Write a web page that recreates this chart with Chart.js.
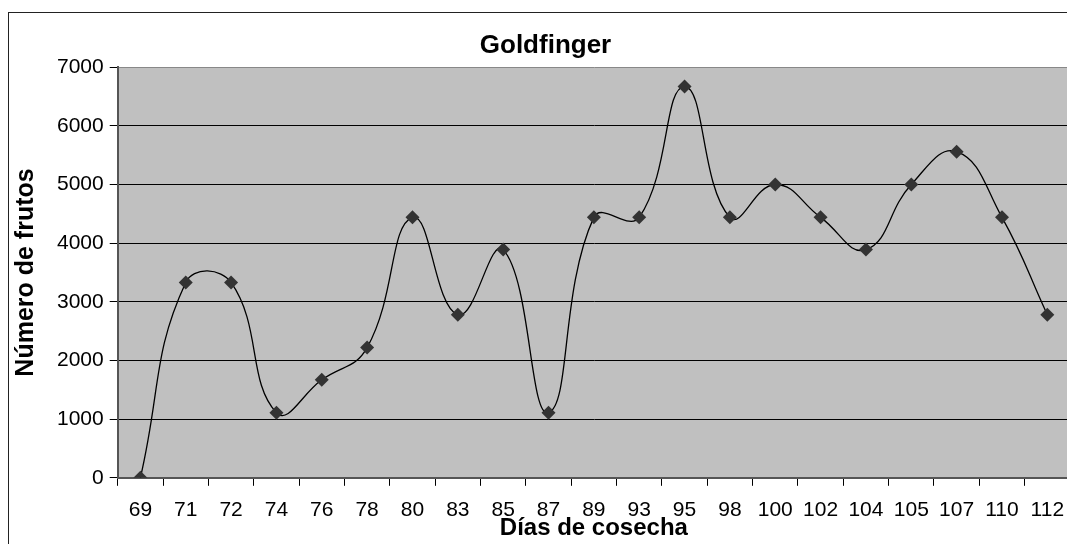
<!DOCTYPE html>
<html>
<head>
<meta charset="utf-8">
<script src="https://cdn.jsdelivr.net/npm/chart.js@4"></script>
<style>
  html, body { margin: 0; padding: 0; background: #fff; overflow: hidden; }
  #frame { position: absolute; left: 8px; top: 12px; width: 1100px; height: 560px;
           border-left: 1px solid #222; border-top: 1px solid #222; }
  #wrap { position: absolute; left: 0; top: 0; width: 1077px; height: 544px; }
</style>
</head>
<body>
<div id="frame"></div>
<div id="wrap"><canvas id="chart"></canvas></div>
<script>
// harvest days and fruit counts
const dias = ['69', '71', '72', '74', '76', '78', '80', '83', '85', '87', '89',
              '93', '95', '98', '100', '102', '104', '105', '107', '110', '112'];
const frutos = [0, 3330, 3330, 1110, 1670, 2220, 4440, 2780, 3890, 1110, 4440,
                4440, 6670, 4440, 5000, 4440, 3890, 5000, 5560, 4440, 2780];
const yTicks = [0, 1000, 2000, 3000, 4000, 5000, 6000, 7000];

const FONT = 'Liberation Sans, Arial, sans-serif';

// grey plot background
const plotBg = {
  id: 'plotBg',
  beforeDraw(chart) {
    const a = chart.chartArea;
    const ctx = chart.ctx;
    ctx.save();
    ctx.fillStyle = '#c0c0c0';
    ctx.fillRect(a.left, a.top, a.right - a.left, a.bottom - a.top);
    ctx.restore();
  }
};

const ctx = document.getElementById('chart').getContext('2d');
new Chart(ctx, {
  type: 'line',
  data: {
    labels: dias,
    datasets: [{
      data: frutos,
      borderColor: '#000',
      borderWidth: 1.3,
      tension: 0.45,
      pointStyle: 'rectRot',
      pointRadius: 7,
      pointBackgroundColor: '#333',
      pointBorderColor: '#333',
      pointBorderWidth: 0
    }]
  },
  options: {
    responsive: true,
    maintainAspectRatio: false,
    animation: false,
    layout: { padding: { left: 14, top: 30, right: 0, bottom: 4 } },
    plugins: {
      legend: { display: false },
      tooltip: { enabled: false },
      title: {
        display: true,
        text: 'Goldfinger',
        color: '#000',
        font: { family: FONT, size: 26, weight: 'bold', lineHeight: 1.2 },
        padding: { top: 0, bottom: 6 }
      }
    },
    scales: {
      x: {
        offset: true,
        grid: { offset: true, drawOnChartArea: false, drawTicks: true, tickLength: 8, color: '#000' },
        border: { color: '#555', width: 2 },
        ticks: {
          color: '#000', maxRotation: 0, autoSkip: false, padding: 12,
          font: { family: FONT, size: 21 }
        },
        title: {
          display: true, text: 'Días de cosecha', color: '#000',
          font: { family: FONT, size: 24, weight: 'bold', lineHeight: 1 },
          padding: { top: -19, bottom: 0 }
        }
      },
      y: {
        min: 0, max: 7000,
        afterBuildTicks(scale) { scale.ticks = yTicks.map(v => ({ value: v })); },
        afterFit(scale) { scale.width += 8; },
        grid: {
          color: c => (c.tick && c.tick.value === 7000 ? '#888' : '#000'),
          lineWidth: 1, tickLength: 8, tickColor: '#000'
        },
        border: { color: '#555', width: 2 },
        ticks: {
          color: '#000', padding: 6,
          font: { family: FONT, size: 21 },
          callback: v => String(v)
        },
        title: {
          display: true, text: 'Número de frutos', color: '#000',
          font: { family: FONT, size: 25, weight: 'bold', lineHeight: 1 },
          padding: { top: 0, bottom: 4 }
        }
      }
    }
  },
  plugins: [plotBg]
});
</script>
</body>
</html>
